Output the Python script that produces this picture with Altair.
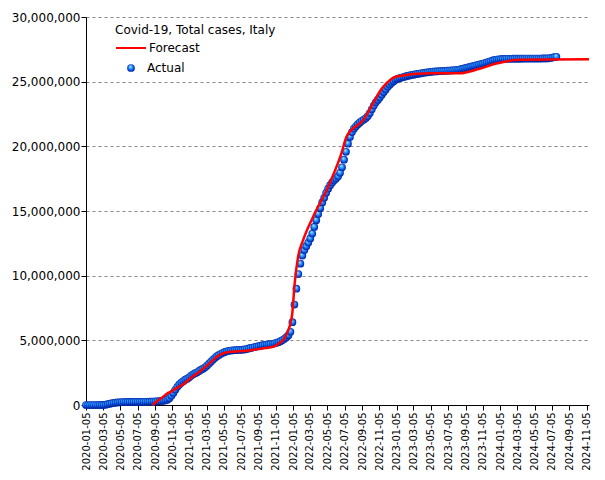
import altair as alt
import pandas as pd

# ---------------- data (values in millions) ----------------
actual_start = "2020-01-05"          # weekly observations
actual_millions = [
    # 2020
    0, 0, 0, 0, 0, 0, 0, 0.0002, 0.0017, 0.0074, 0.0247, 0.0596, 0.0975,
    0.1285, 0.1563, 0.1785, 0.1970, 0.2104, 0.2191, 0.2254, 0.2297, 0.2327,
    0.2349, 0.2366, 0.2384, 0.2401, 0.2416, 0.2430, 0.2446, 0.2464, 0.2483,
    0.2506, 0.2537, 0.2592, 0.2685, 0.2778, 0.2874, 0.2986, 0.3100, 0.3254,
    0.3545, 0.4147, 0.5256, 0.7096, 0.9356, 1.1788, 1.4081, 1.5854, 1.7287,
    1.8433, 1.9537, 2.0384,
    # 2021
    2.1414, 2.2766, 2.3683, 2.4556, 2.5291, 2.6365, 2.7300, 2.8100, 2.9100,
    3.0500, 3.2000, 3.3600, 3.5100, 3.6500, 3.7700, 3.8700, 3.9600, 4.0400,
    4.1000, 4.1500, 4.1900, 4.2100, 4.2300, 4.2400, 4.2500, 4.2600, 4.2650,
    4.2800, 4.3000, 4.3300, 4.3700, 4.4100, 4.4400, 4.4800, 4.5200, 4.5500,
    4.5900, 4.6200, 4.6500, 4.6700, 4.6900, 4.7100, 4.7300, 4.7700, 4.8100,
    4.8600, 4.9300, 5.0200, 5.1200, 5.2400, 5.4000, 5.6600,
    # 2022
    6.40, 7.77, 8.99, 10.12, 10.93, 11.55, 11.98, 12.28, 12.56, 12.88, 13.26,
    13.77, 14.29, 14.76, 15.22, 15.66, 16.02, 16.41, 16.73, 17.00, 17.21,
    17.37, 17.51, 17.68, 17.95, 18.38, 18.97, 19.58, 20.20, 20.72, 21.10,
    21.36, 21.55, 21.71, 21.85, 21.97, 22.07, 22.19, 22.34, 22.57, 22.86,
    23.15, 23.40, 23.59, 23.78, 23.99, 24.20, 24.40, 24.60, 24.77, 24.91,
    25.03,
    # 2023
    25.14, 25.21, 25.27, 25.32, 25.36, 25.40, 25.44, 25.48, 25.51, 25.54,
    25.57, 25.60, 25.63, 25.65, 25.68, 25.70, 25.72, 25.74, 25.76, 25.78,
    25.79, 25.80, 25.81, 25.82, 25.83, 25.84, 25.85, 25.86, 25.87, 25.88,
    25.90, 25.92, 25.94, 25.97, 26.00, 26.04, 26.08, 26.12, 26.16, 26.20,
    26.24, 26.28, 26.32, 26.36, 26.40, 26.44, 26.49, 26.54, 26.59, 26.64,
    26.68, 26.71, 26.73,
    # 2024
    26.75, 26.76, 26.76, 26.77, 26.77, 26.77, 26.78, 26.78, 26.78, 26.78,
    26.78, 26.79, 26.79, 26.79, 26.79, 26.79, 26.79, 26.79, 26.79, 26.79,
    26.79, 26.80, 26.80, 26.80, 26.81, 26.83, 26.86, 26.89, 26.92,
]

forecast_dates = [
    "2020-08-26", "2020-09-15", "2020-10-01", "2020-10-15", "2020-11-01",
    "2020-11-15", "2020-12-01", "2020-12-15", "2021-01-01", "2021-01-15",
    "2021-02-01", "2021-02-15", "2021-03-01", "2021-03-15", "2021-04-01",
    "2021-04-15", "2021-05-01", "2021-05-15", "2021-06-01", "2021-07-01",
    "2021-08-01", "2021-09-01", "2021-10-01", "2021-11-01", "2021-11-15",
    "2021-12-01", "2021-12-15", "2022-01-01", "2022-01-10", "2022-01-22",
    "2022-02-09", "2022-03-16", "2022-05-03", "2022-06-24", "2022-07-12",
    "2022-09-09", "2022-11-18", "2023-01-04", "2023-05-01", "2023-08-15",
    "2023-10-24", "2023-12-22", "2024-03-13", "2024-11-13",
]
forecast_millions = [
    0.0, 0.35, 0.60, 0.85, 1.05,
    1.25, 1.45, 1.65, 1.95, 2.20,
    2.45, 2.70, 2.95, 3.20, 3.55,
    3.80, 3.98, 4.07, 4.12, 4.15,
    4.22, 4.32, 4.40, 4.55, 4.75,
    5.05, 5.60, 7.00, 9.40, 11.47,
    12.76, 14.56, 16.63, 19.47, 20.75,
    22.04, 24.60, 25.40, 25.65, 25.65,
    26.00, 26.40, 26.70, 26.73,
]

y_ticks = [0, 5e6, 10e6, 15e6, 20e6, 25e6, 30e6]
x_tick_dates = [(y, m) for y in range(2020, 2025) for m in (1, 3, 5, 7, 9, 11)]

# ---------------- frames ----------------
actual_dates = pd.date_range(actual_start, periods=len(actual_millions), freq="7D")
df_actual = pd.DataFrame({
    "date": actual_dates.strftime("%Y-%m-%d"),
    "cases": [v * 1e6 for v in actual_millions],
    "series": "Actual",
})
df_forecast = pd.DataFrame({
    "date": forecast_dates,
    "cases": [v * 1e6 for v in forecast_millions],
    "series": "Forecast",
})

FONT = "DejaVu Sans"

sphere = {
    "gradient": "radial",
    "x1": 0.4, "y1": 0.3, "r1": 0,
    "x2": 0.5, "y2": 0.5, "r2": 0.55,
    "stops": [
        {"offset": 0.0, "color": "#c0f0ff"},
        {"offset": 0.3, "color": "#4ab4ff"},
        {"offset": 0.62, "color": "#0e62ec"},
        {"offset": 0.86, "color": "#0030b0"},
        {"offset": 1.0, "color": "#000070"},
    ],
}

x_enc = alt.X(
    "date:T",
    scale=alt.Scale(
        type="utc",
        domain=[alt.DateTime(year=2020, month=1, date=5, utc=True),
                alt.DateTime(year=2024, month=11, date=13, utc=True)],
    ),
    axis=alt.Axis(
        title=None,
        values=[alt.DateTime(year=y, month=m, date=5, utc=True) for y, m in x_tick_dates],
        labelExpr="utcFormat(datum.value, '%Y-%m-%d')",
        labelAngle=270,
        labelFont=FONT,
        labelFontSize=10,
        labelColor="black",
        labelPadding=2,
        tickSize=5,
        tickColor="black",
        domainColor="black",
        grid=False,
        labelOverlap=False,
    ),
)
y_enc = alt.Y(
    "cases:Q",
    scale=alt.Scale(domain=[0, 30e6], nice=False),
    axis=alt.Axis(
        title=None,
        values=y_ticks,
        format=",d",
        labelFont=FONT,
        labelFontSize=12,
        labelColor="black",
        labelPadding=1,
        tickSize=5,
        tickColor="black",
        domainColor="black",
        grid=True,
        gridColor="#888888",
        gridDash=[3, 3],
        gridWidth=1,
    ),
)

points = alt.Chart(df_actual).mark_point(
    filled=True, fill=sphere, size=60, opacity=1, strokeWidth=0
).encode(
    x=x_enc,
    y=y_enc,
    shape=alt.Shape(
        "series:N",
        scale=alt.Scale(domain=["Actual"], range=["circle"]),
        legend=alt.Legend(
            title=None,
            orient="none",
            legendX=39,
            legendY=45,
            padding=0,
            labelFont=FONT,
            labelFontSize=12,
            labelColor="black",
            labelOffset=10,
            symbolSize=60,
            symbolFillColor="#0e62ec",
            symbolStrokeWidth=0,
        ),
    ),
)

line = alt.Chart(df_forecast).mark_line(strokeWidth=2.5, interpolate="monotone").encode(
    x=x_enc,
    y=y_enc,
    color=alt.Color(
        "series:N",
        scale=alt.Scale(domain=["Forecast"], range=["#ff0000"]),
        legend=alt.Legend(
            title="Covid-19, Total cases, Italy",
            orient="none",
            legendX=29,
            legendY=8,
            padding=0,
            titleFont=FONT,
            titleFontSize=12,
            titleFontWeight="normal",
            titleColor="black",
            titlePadding=-5,
            labelFont=FONT,
            labelFontSize=12,
            labelColor="black",
            labelOffset=2,
            symbolType="stroke",
            symbolSize=900,
            symbolStrokeWidth=2,
        ),
    ),
)

chart = alt.layer(points, line).resolve_legend(
    color="independent", shape="independent"
).properties(
    width=503,
    height=388,
    autosize=alt.AutoSizeParams(type="none"),
    padding={"left": 78, "top": 9, "right": 8, "bottom": 70},
    background="white",
).configure_view(stroke=None)

chart.save("out.html", embed_options={"renderer": "svg", "actions": False})
